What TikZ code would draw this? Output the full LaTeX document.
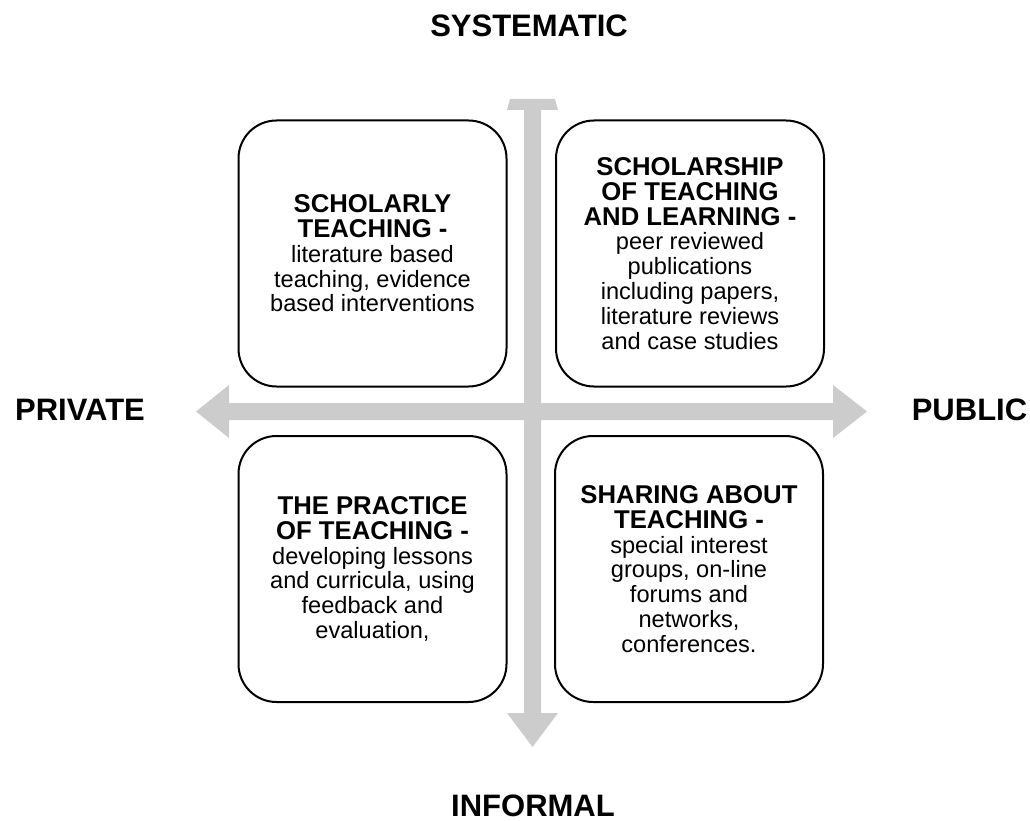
\documentclass[tikz,border=0pt]{standalone}
\usepackage{fontspec}
\setmainfont{Liberation Sans}
\newcommand\qhead[1]{{\fontsize{25.7}{24.8}\selectfont\bfseries #1}}
\tikzset{
    quad/.style={draw, line width=2pt, rounded corners=38pt, fill=white,
        minimum width=268pt, minimum height=266pt, inner sep=0pt,
        align=center, font=\fontsize{23.6}{24.8}\selectfont},
    axislabel/.style={anchor=base, inner sep=0pt, font=\fontsize{31}{36}\selectfont\bfseries},
}
\begin{document}
\begin{tikzpicture}[x=1pt,y=-1pt]
    \useasboundingbox (0,0) rectangle (1030,821);
    % grey axes
    \fill[black!20] (196,411.5) -- (229,385) -- (229,403) -- (833,403) -- (833,385) -- (867,411.5)
        -- (833,438) -- (833,420) -- (229,420) -- (229,438) -- cycle;
    \fill[black!20] (510,99) -- (555,99) -- (558,110) -- (541,110) -- (541,713) -- (558,713)
        -- (532.5,747) -- (507,713) -- (524,713) -- (524,110) -- (507,110) -- cycle;
    \node[axislabel] (sys) at (529,37) {SYSTEMATIC};
    \node[axislabel] (inf) at (533,816) {INFORMAL};
    \node[axislabel] (priv) at (80,420) {PRIVATE};
    \node[axislabel] (pub) at (969.5,420) {PUBLIC};
    % the four quadrants
    \node[quad] (scholarly) at (372.5,253.5) {\qhead{SCHOLARLY}\\\qhead{TEACHING -}\\literature based\\teaching, evidence\\based interventions};
    \node[quad] (sotl) at (690,253.5) {\qhead{SCHOLARSHIP}\\\qhead{OF TEACHING}\\\qhead{AND LEARNING -}\\peer reviewed\\publications\\including papers,\\literature reviews\\and case studies};
    \node[quad] (practice) at (372.5,569) {\qhead{THE PRACTICE}\\\qhead{OF TEACHING -}\\developing lessons\\and curricula, using\\feedback and\\evaluation,};
    \node[quad] (sharing) at (689,569) {\qhead{SHARING ABOUT}\\\qhead{TEACHING -}\\special interest\\groups, on-line\\forums and\\networks,\\conferences.};
\end{tikzpicture}
\end{document}
